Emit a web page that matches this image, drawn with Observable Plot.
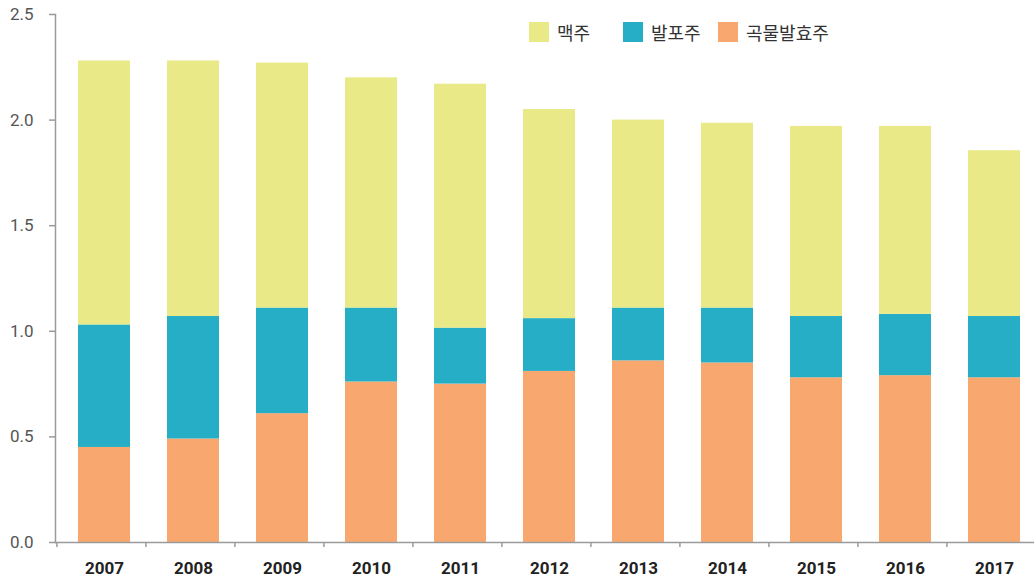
<!DOCTYPE html>
<html>
<head>
<meta charset="utf-8">
<script src="https://cdn.jsdelivr.net/npm/d3@7"></script>
<script src="https://cdn.jsdelivr.net/npm/@observablehq/plot@0.6"></script>
<style>
  html, body { margin: 0; padding: 0; background: #fff; }
  #wrap { position: relative; width: 1034px; height: 578px; font-family: Roboto, "Noto Sans CJK KR", sans-serif; }
  .leg { position: absolute; top: 22px; display: flex; align-items: center; height: 20px; font-family: "Noto Sans CJK KR", sans-serif; font-size: 18px; color: #333; }
  .leg span.sw { display: inline-block; width: 20px; height: 20px; margin-right: 8px; }
</style>
</head>
<body>
<div id="wrap"></div>
<script>
const years = ["2007","2008","2009","2010","2011","2012","2013","2014","2015","2016","2017"];
const seriesNames = ["곡물발효주", "발포주", "맥주"];
const grain    = [0.45, 0.49, 0.61, 0.76, 0.75, 0.81, 0.86, 0.85, 0.78, 0.79, 0.78];
const happoshu = [0.58, 0.58, 0.50, 0.35, 0.265, 0.25, 0.25, 0.26, 0.29, 0.29, 0.29];
const beer     = [1.25, 1.21, 1.16, 1.09, 1.155, 0.99, 0.89, 0.875, 0.90, 0.89, 0.785];
const yTicks = [0, 0.5, 1.0, 1.5, 2.0, 2.5];
const colors = {"맥주": "#E9EA87", "발포주": "#26AEC6", "곡물발효주": "#F8A86E"};
const legendOrder = ["맥주", "발포주", "곡물발효주"];

const table = [];
const seriesValues = {"곡물발효주": grain, "발포주": happoshu, "맥주": beer};
for (const s of seriesNames) {
  years.forEach((y, i) => table.push({year: y, series: s, value: seriesValues[s][i]}));
}

const chart = Plot.plot({
  width: 1034,
  height: 578,
  marginTop: 14,
  marginBottom: 36,
  marginLeft: 55,
  marginRight: 0,
  style: {fontFamily: "Roboto, sans-serif", background: "#fff"},
  x: {domain: years, range: [58, 1040], paddingInner: 0.416, paddingOuter: 0.208, label: null},
  y: {domain: [0, 2.5], label: null},
  color: {domain: Object.keys(colors), range: Object.values(colors)},
  marks: [
    Plot.barY(table, {x: "year", y: "value", fill: "series", order: seriesNames}),
    Plot.frame({anchor: "left", stroke: "#9a9a9a", strokeWidth: 1.5}),
    Plot.frame({anchor: "bottom", stroke: "#9a9a9a", strokeWidth: 1.5}),
    Plot.axisY({ticks: yTicks, tickFormat: d3.format(".1f"), tickSize: 6, tickPadding: 16, stroke: "#9a9a9a", strokeWidth: 1.5, fill: "#555", fontSize: 17, label: null}),
    Plot.axisX({tickSize: 5, tickFormat: () => "", dx: -47.6, stroke: "#9a9a9a", strokeWidth: 1.5, label: null}),
    Plot.axisX({tickSize: 0, tickPadding: 19, fill: "#222", fontSize: 17, fontWeight: "bold", label: null})
  ]
});

const wrap = document.getElementById("wrap");
wrap.appendChild(chart);

const legLefts = [529, 623, 718];
legendOrder.forEach((name, i) => {
  const d = document.createElement("div");
  d.className = "leg";
  d.style.left = legLefts[i] + "px";
  const sw = document.createElement("span");
  sw.className = "sw";
  sw.style.background = colors[name];
  d.appendChild(sw);
  const t = document.createElement("span");
  t.textContent = name;
  d.appendChild(t);
  wrap.appendChild(d);
});
</script>
</body>
</html>
